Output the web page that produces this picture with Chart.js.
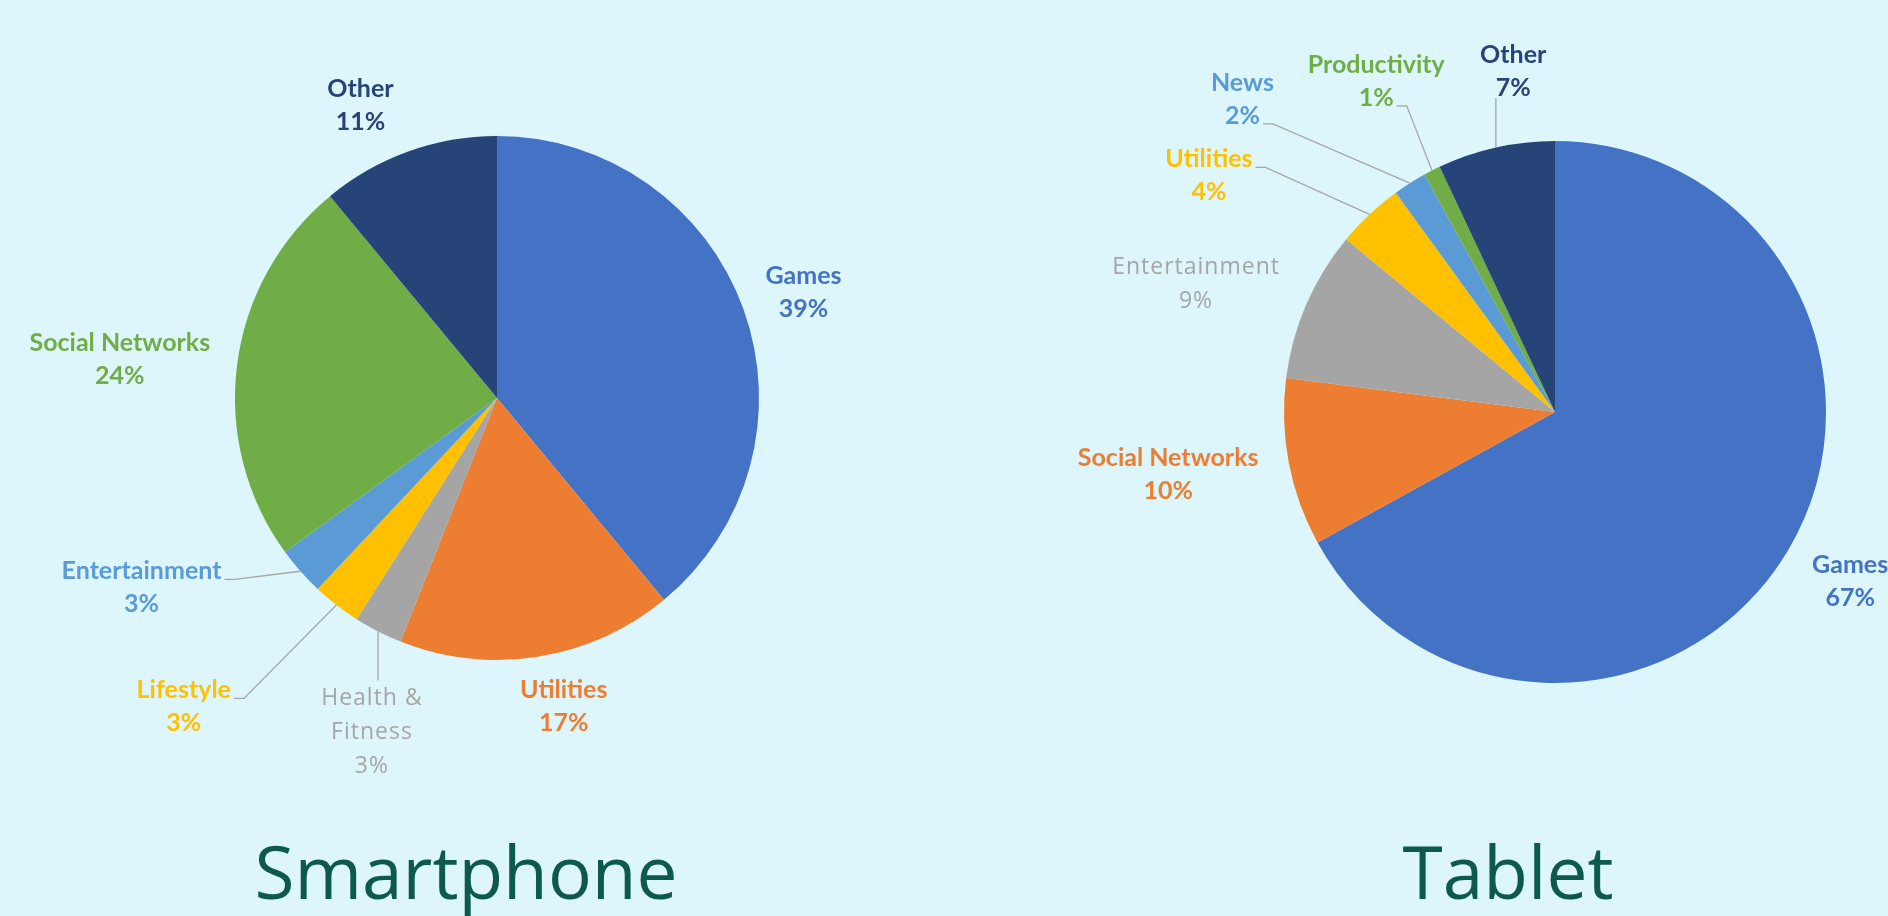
<!DOCTYPE html>
<html>
<head>
<meta charset="utf-8">
<script src="https://cdn.jsdelivr.net/npm/chart.js@4.4.1/dist/chart.umd.min.js"></script>
<style>
  html, body { margin: 0; padding: 0; background: #ddf6fc; }
  body { width: 1888px; height: 916px; position: relative; overflow: hidden; }
  canvas { position: absolute; top: 0; }
  #phone { left: 0; }
  #tablet { left: 944px; }
</style>
</head>
<body>
<canvas id="phone" width="944" height="916"></canvas>
<canvas id="tablet" width="944" height="916"></canvas>
<script>
// app category share, in percent
const phoneCategories = ['Games', 'Utilities', 'Health & Fitness', 'Lifestyle', 'Entertainment', 'Social Networks', 'Other'];
const phoneShares = [39, 17, 3, 3, 3, 24, 11];
const tabletCategories = ['Games', 'Social Networks', 'Entertainment', 'Utilities', 'News', 'Productivity', 'Other'];
const tabletShares = [67, 10, 9, 4, 2, 1, 7];
const chartTitles = ['Smartphone', 'Tablet'];

const phoneColors = ['#4472C4', '#ED7D31', '#A5A5A5', '#FFC000', '#5B9BD5', '#70AD47', '#264478'];
const tabletColors = ['#4472C4', '#ED7D31', '#A5A5A5', '#FFC000', '#5B9BD5', '#70AD47', '#264478'];

// draws the Excel-like data labels, leader lines and the big caption
const pieLabels = {
  id: 'pieLabels',
  afterDraw(chart, args, opts) {
    var ctx = chart.ctx;
    var meta = chart.getDatasetMeta(0);
    var values = chart.data.datasets[0].data;
    var colors = chart.data.datasets[0].backgroundColor;
    var total = values.reduce((a, b) => a + b, 0);
    var cx0 = 0, cy0 = 0;

    ctx.save();
    meta.data.forEach(function(arc, i) {
      var p = arc.getProps(['x', 'y', 'startAngle', 'endAngle', 'outerRadius'], true);
      cx0 = p.x; cy0 = p.y;
      var place = opts.places[i];
      var a = place.a * Math.PI / 180 - Math.PI / 2;
      var cx = p.x + Math.cos(a) * p.outerRadius * place.k;
      var cy = p.y + Math.sin(a) * p.outerRadius * place.k;

      var name = chart.data.labels[i];
      var lines = place.wrap ? name.replace(' & ', ' &\n').split('\n') : [name];
      lines.push(Math.round(values[i] / total * 100) + '%');

      if (place.plain) {
        ctx.font = '400 23px "Open Sans"';
        ctx.letterSpacing = '1px';
        ctx.fillStyle = '#a5a5a5';
      } else {
        ctx.font = '700 25px Lato';
        ctx.letterSpacing = '0px';
        ctx.fillStyle = colors[i];
      }
      var lh = place.plain ? 34 : 33;
      var top = cy - (lines.length - 1) * lh / 2;
      ctx.textAlign = 'center';
      ctx.textBaseline = 'middle';
      lines.forEach(function(t, j) {
        ctx.fillText(t, cx, top + j * lh);
      });

      if (place.leader) {
        var mid = (p.startAngle + p.endAngle) / 2;
        var ax = p.x + Math.cos(mid) * p.outerRadius;
        var ay = p.y + Math.sin(mid) * p.outerRadius;
        ctx.beginPath();
        if (place.leader === 'r1' || place.leader === 'r2') {
          var j = place.leader === 'r1' ? 0 : lines.length - 1;
          var x0 = cx + ctx.measureText(lines[j]).width / 2 + 3;
          var y0 = top + j * lh + 8;
          ctx.moveTo(x0, y0);
          ctx.lineTo(x0 + 10, y0);
        } else if (place.leader === 'top') {
          ctx.moveTo(ax, top - 18);
        } else {
          ctx.moveTo(ax, top + (lines.length - 1) * lh + 10);
        }
        ctx.lineTo(ax, ay);
        ctx.strokeStyle = '#a6a6a6';
        ctx.lineWidth = 1.3;
        ctx.stroke();
      }
    });

    ctx.letterSpacing = '0px';
    ctx.font = '400 73px "Open Sans"';
    ctx.fillStyle = '#0d5a4c';
    ctx.textAlign = 'center';
    ctx.textBaseline = 'alphabetic';
    ctx.fillText(opts.title, cx0 + opts.titleDx, opts.titleY);
    ctx.restore();
  }
};

function makePie(id, categories, shares, colors, padding, title, titleDx, places) {
  return new Chart(document.getElementById(id), {
    type: 'pie',
    data: {
      labels: categories,
      datasets: [{
        data: shares,
        backgroundColor: colors,
        borderWidth: 0
      }]
    },
    options: {
      responsive: false,
      animation: false,
      events: [],
      layout: { padding: padding },
      plugins: {
        legend: { display: false },
        tooltip: { enabled: false },
        pieLabels: { places: places, title: title, titleDx: titleDx, titleY: 899 }
      }
    },
    plugins: [pieLabels]
  });
}

makePie('phone', phoneCategories, phoneShares, phoneColors,
  { left: 235, right: 185, top: 136, bottom: 256 }, chartTitles[0], -31, [
    { a: 71, k: 1.237 },
    { a: 167.8, k: 1.206 },
    { a: 200.5, k: 1.363, plain: true, wrap: true, leader: 'top' },
    { a: 225.4, k: 1.679, leader: 'r1' },
    { a: 241.9, k: 1.538, leader: 'r1' },
    { a: 275.8, k: 1.447 },
    { a: 335, k: 1.233 }
  ]);

makePie('tablet', tabletCategories, tabletShares, tabletColors,
  { left: 340, right: 62, top: 141, bottom: 233 }, chartTitles[1], -47, [
    { a: 119.8, k: 1.255 },
    { a: 260.8, k: 1.446 },
    { a: 289.6, k: 1.406, plain: true },
    { a: 304.3, k: 1.546, leader: 'r1' },
    { a: 315, k: 1.631, leader: 'r2' },
    { a: 331.6, k: 1.387, leader: 'r2' },
    { a: 353, k: 1.266, leader: 'bottom' }
  ]);
</script>
</body>
</html>
